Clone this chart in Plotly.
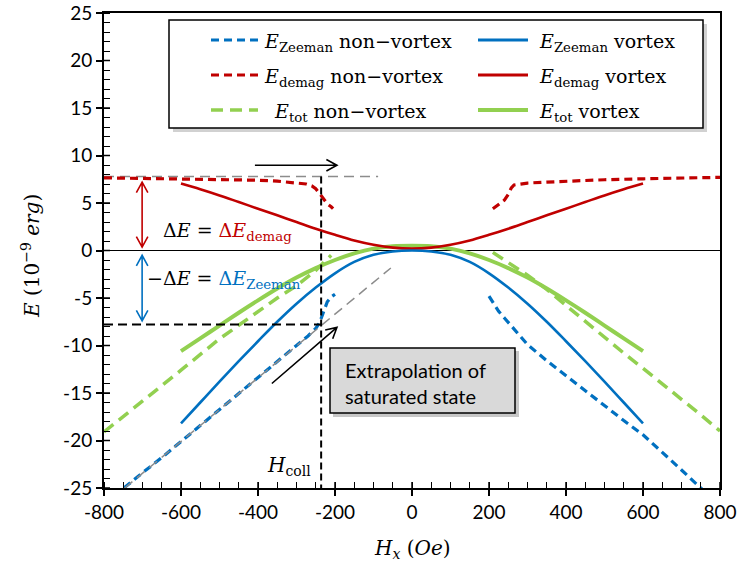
import plotly.graph_objects as go

# ---------------- data (Hx in Oe, E in 1e-9 erg) ----------------
zeeman_nv_left_x = [-800, -750, -700, -650, -600, -550, -500, -450, -400, -350, -300, -270, -250, -240, -230, -220, -210, -200]
zeeman_nv_left_y = [-26.7, -25.0, -23.4, -21.8, -20.1, -18.4, -16.8, -15.1, -13.4, -11.7, -10.0, -9.0, -8.2, -7.6, -6.4, -5.4, -4.9, -4.6]
zeeman_nv_right_x = [200, 210, 225, 240, 255, 270, 300, 350, 400, 450, 500, 550, 600, 650, 700, 750, 800]
zeeman_nv_right_y = [-4.8, -5.4, -6.4, -7.1, -7.8, -8.6, -9.9, -11.6, -13.2, -14.8, -16.4, -17.9, -19.4, -21.2, -23.1, -25.0, -26.8]

demag_nv_left_x = [-800, -700, -600, -500, -400, -350, -300, -275, -260, -250, -240, -230, -220, -210, -205]
demag_nv_left_y = [7.65, 7.6, 7.55, 7.5, 7.4, 7.3, 7.15, 7.0, 6.8, 6.5, 6.0, 5.4, 4.9, 4.6, 4.4]
demag_nv_right_x = [210, 225, 240, 250, 258, 265, 280, 300, 350, 400, 500, 600, 700, 800]
demag_nv_right_y = [4.4, 4.8, 5.3, 5.9, 6.6, 6.9, 7.0, 7.1, 7.2, 7.3, 7.45, 7.55, 7.65, 7.7]

tot_nv_left_x = [-800, -700, -600, -500, -400, -350, -300, -270, -250, -235, -220, -210]
tot_nv_left_y = [-19.1, -15.9, -12.6, -9.3, -6.4, -5.0, -3.7, -2.8, -2.1, -1.5, -0.9, -0.5]
tot_nv_right_x = [210, 250, 300, 350, 400, 450, 500, 550, 600, 650, 700, 750, 800]
tot_nv_right_y = [-0.2, -1.3, -2.6, -4.1, -5.8, -7.5, -9.2, -10.8, -12.4, -14.0, -15.6, -17.3, -19.0]

vortex_x = [-600, -550, -500, -450, -400, -350, -300, -250, -200, -150, -100, -50, 0,
            50, 100, 150, 200, 250, 300, 350, 400, 450, 500, 550, 600]
zeeman_v_y = [-18.2, -16.0, -13.8, -11.65, -9.55, -7.5, -5.6, -3.9, -2.4, -1.2, -0.45, -0.1, 0.0,
              -0.1, -0.45, -1.2, -2.4, -3.9, -5.6, -7.5, -9.55, -11.65, -13.8, -16.0, -18.2]
demag_v_y = [7.05, 6.45, 5.8, 5.1, 4.4, 3.7, 3.0, 2.3, 1.65, 1.05, 0.6, 0.3, 0.2,
             0.3, 0.6, 1.05, 1.65, 2.3, 3.0, 3.7, 4.4, 5.1, 5.8, 6.45, 7.05]
tot_v_y = [-10.6, -9.25, -7.9, -6.55, -5.25, -4.0, -2.85, -1.85, -1.0, -0.3, 0.2, 0.45, 0.5,
           0.45, 0.2, -0.3, -1.0, -1.85, -2.85, -4.0, -5.25, -6.55, -7.9, -9.25, -10.6]

x_ticks = [-800, -600, -400, -200, 0, 200, 400, 600, 800]
x_tick_text = ["-800", "-600", "-400", "-200", "0", "200", "400", "600", "800"]
y_ticks = [-25, -20, -15, -10, -5, 0, 5, 10, 15, 20, 25]
y_tick_text = ["-25", "-20", "-15", "-10", "-5", "0", "5", "10", "15", "20", "25"]

# reference markers
H_coll = -236
E_sat = 7.8
extrap_slope = 0.0335

BLUE = "#0070C0"
RED = "#C00000"
GREEN = "#92D050"
SERIF = "DejaVu Serif"
SANS = "Lato"

# ---------------- layout geometry ----------------
W, H = 740, 574
ML, MR, MT, MB = 104, 20, 13, 86
PW, PH = W - ML - MR, H - MT - MB
XR = (-800, 800)
YR = (-25, 25)
XPX = (XR[1] - XR[0]) / PW   # data units per px
YPX = (YR[1] - YR[0]) / PH


def pxx(px):
    return (px - ML) / PW


def pyy(py):
    return (H - MB - py) / PH


fig = go.Figure()


def add(x, y, color, width, dash, name, smooth=False):
    fig.add_trace(go.Scatter(x=x, y=y, mode="lines", name=name, showlegend=False,
                             line=dict(color=color, width=width, dash=dash,
                                       shape="spline" if smooth else "linear",
                                       smoothing=1.0 if smooth else None)))


add(tot_nv_left_x, tot_nv_left_y, GREEN, 3.5, "12px,7px", "E_tot non-vortex")
add(tot_nv_right_x, tot_nv_right_y, GREEN, 3.5, "12px,7px", "E_tot non-vortex")
add(vortex_x, tot_v_y, GREEN, 4, None, "E_tot vortex", True)
add(demag_nv_left_x, demag_nv_left_y, RED, 3.2, "8px,5px", "E_demag non-vortex")
add(demag_nv_right_x, demag_nv_right_y, RED, 3.2, "8px,5px", "E_demag non-vortex")
add(vortex_x, demag_v_y, RED, 2.6, None, "E_demag vortex", True)
add(vortex_x, zeeman_v_y, BLUE, 2.6, None, "E_Zeeman vortex", True)
add(zeeman_nv_left_x, zeeman_nv_left_y, BLUE, 3.2, "8px,5px", "E_Zeeman non-vortex")
add(zeeman_nv_right_x, zeeman_nv_right_y, BLUE, 3.2, "8px,5px", "E_Zeeman non-vortex")

shapes = []
annotations = []

# reference lines
shapes.append(dict(type="line", xref="x", yref="y", x0=-800, x1=-88, y0=E_sat, y1=E_sat,
                   line=dict(color="#8c8c8c", width=1.5, dash="10px,6px"), layer="below"))
ex0 = -25 / extrap_slope
shapes.append(dict(type="line", xref="x", yref="y", x0=ex0, y0=-25, x1=-55, y1=-55 * extrap_slope,
                   line=dict(color="#8c8c8c", width=1.5, dash="10px,6px")))
shapes.append(dict(type="line", xref="x", yref="y", x0=H_coll, x1=H_coll, y0=E_sat, y1=-25,
                   line=dict(color="black", width=2, dash="7px,4px")))
shapes.append(dict(type="line", xref="x", yref="y", x0=-800, x1=H_coll, y0=-E_sat, y1=-E_sat,
                   line=dict(color="black", width=2, dash="9px,5px")))


def chevron(tx, ty, ux, uy, arm=12, ang=0.5):
    import math
    n = math.hypot(ux, uy)
    ux, uy = ux / n, uy / n
    pts = []
    for s in (1, -1):
        c, sn = math.cos(s * ang), math.sin(s * ang)
        rx = -(ux * c - uy * sn)
        ry = -(ux * sn + uy * c)
        pts.append((tx + rx * arm * XPX, ty + ry * arm * YPX))
    return f"M{pts[0][0]},{pts[0][1]} L{tx},{ty} L{pts[1][0]},{pts[1][1]}"


def arrow(x0, y0, x1, y1, color, width=1.6, double=False):
    ux = (x1 - x0) / XPX
    uy = (y1 - y0) / YPX
    path = f"M{x0},{y0} L{x1},{y1} " + chevron(x1, y1, ux, uy)
    if double:
        path += " " + chevron(x0, y0, -ux, -uy)
    shapes.append(dict(type="path", xref="x", yref="y", path=path,
                       line=dict(color=color, width=width)))


arrow(-408, 8.97, -195, 8.97, "black")
arrow(-364, -14.0, -195, -8.1, "black")
arrow(-701, 7.2, -701, 0.35, RED, double=True)
arrow(-701, -0.5, -701, -7.4, BLUE, double=True)

# inner half of major ticks (ticks cross the axis)
for v in x_ticks:
    shapes.append(dict(type="line", xref="x", yref="paper", x0=v, x1=v, y0=0, y1=6 / PH,
                       line=dict(color="black", width=1.5)))
for v in y_ticks:
    shapes.append(dict(type="line", xref="paper", yref="y", x0=0, x1=6 / PW, y0=v, y1=v,
                       line=dict(color="black", width=1.5)))

# text box "Extrapolation of saturated state"
shapes.append(dict(type="rect", xref="paper", yref="paper", x0=pxx(333), x1=pxx(519),
                   y0=pyy(417), y1=pyy(351), fillcolor="rgba(0,0,0,0.22)", line=dict(width=0)))
shapes.append(dict(type="rect", xref="paper", yref="paper", x0=pxx(330), x1=pxx(515),
                   y0=pyy(413), y1=pyy(348), fillcolor="#d9d9d9", line=dict(color="black", width=1.5)))
annotations.append(dict(xref="paper", yref="paper", x=pxx(343), y=pyy(383), xanchor="left",
                        yanchor="middle", align="left", showarrow=False,
                        text="Extrapolation of<br>saturated state",
                        font=dict(family=SANS, size=20, color="black")))

# legend box (manual, two columns)
shapes.append(dict(type="rect", xref="paper", yref="paper", x0=pxx(173), x1=pxx(707),
                   y0=pyy(132), y1=pyy(24), fillcolor="rgba(0,0,0,0.18)", line=dict(width=0)))
shapes.append(dict(type="rect", xref="paper", yref="paper", x0=pxx(169), x1=pxx(703),
                   y0=pyy(128), y1=pyy(20), fillcolor="white", line=dict(color="black", width=1.5)))

legend_rows = [
    (40, BLUE, "8px,5px", 3.2, "<i>E</i><sub>Zeeman</sub> non−vortex", "<i>E</i><sub>Zeeman</sub> vortex", 262),
    (75, RED, "8px,5px", 3.2, "<i>E</i><sub>demag</sub> non−vortex", "<i>E</i><sub>demag</sub> vortex", 262),
    (110, GREEN, "12px,7px", 3.5, "<i>E</i><sub>tot</sub> non−vortex", "<i>E</i><sub>tot</sub> vortex", 272),
]
for py, col, dash, w, t1, t2, tx in legend_rows:
    shapes.append(dict(type="line", xref="paper", yref="paper", x0=pxx(211), x1=pxx(258),
                       y0=pyy(py), y1=pyy(py), line=dict(color=col, width=w, dash=dash)))
    shapes.append(dict(type="line", xref="paper", yref="paper", x0=pxx(478), x1=pxx(528),
                       y0=pyy(py), y1=pyy(py), line=dict(color=col, width=3 if col != GREEN else 4)))
    annotations.append(dict(xref="paper", yref="paper", x=pxx(tx), y=pyy(py + 2), xanchor="left",
                            yanchor="middle", showarrow=False, text=t1,
                            font=dict(family=SERIF, size=19, color="black")))
    annotations.append(dict(xref="paper", yref="paper", x=pxx(537), y=pyy(py + 2), xanchor="left",
                            yanchor="middle", showarrow=False, text=t2,
                            font=dict(family=SERIF, size=19, color="black")))

# delta E labels
annotations.append(dict(xref="paper", yref="paper", x=pxx(161), y=pyy(231), xanchor="left",
                        yanchor="middle", showarrow=False,
                        text="Δ<i>E</i> = <span style='color:#C00000'>Δ<i>E</i><sub>demag</sub></span>",
                        font=dict(family=SERIF, size=19, color="black")))
annotations.append(dict(xref="paper", yref="paper", x=pxx(145), y=pyy(280), xanchor="left",
                        yanchor="middle", showarrow=False,
                        text="−Δ<i>E</i> = <span style='color:#0070C0'>Δ<i>E</i><sub>Zeeman</sub></span>",
                        font=dict(family=SERIF, size=19, color="black")))
annotations.append(dict(xref="paper", yref="paper", x=pxx(289), y=pyy(466), xanchor="center",
                        yanchor="middle", showarrow=False,
                        text="<i>H</i><sub>coll</sub>",
                        font=dict(family=SERIF, size=20, color="black")))

# axis titles
annotations.append(dict(xref="paper", yref="paper", x=pxx(412), y=pyy(549), xanchor="center",
                        yanchor="middle", showarrow=False,
                        text="<i>H</i><sub><i>x</i></sub> (<i>Oe</i>)",
                        font=dict(family=SERIF, size=20, color="black")))
annotations.append(dict(xref="paper", yref="paper", x=pxx(31), y=pyy(256), xanchor="center",
                        yanchor="middle", showarrow=False, textangle=-90,
                        text="<i>E</i> (10<sup>−9</sup> <i>erg</i>)",
                        font=dict(family=SERIF, size=20, color="black")))

fig.update_layout(
    template="none",
    width=W, height=H,
    margin=dict(l=ML, r=MR, t=MT, b=MB, autoexpand=False),
    paper_bgcolor="white", plot_bgcolor="white",
    showlegend=False,
    shapes=shapes, annotations=annotations,
)
fig.update_xaxes(range=list(XR), tickvals=x_ticks, ticktext=x_tick_text, automargin=False,
                 ticks="outside", ticklen=6, tickwidth=1.5, tickcolor="black",
                 showline=True, linewidth=2, linecolor="black", mirror=True,
                 showgrid=False, zeroline=False,
                 tickfont=dict(family=SANS, size=19, color="black"),
                 minor=dict(dtick=50, ticks="inside", ticklen=6, tickwidth=1.2, tickcolor="black", showgrid=False))
fig.update_yaxes(range=list(YR), tickvals=y_ticks, ticktext=y_tick_text, automargin=False,
                 ticks="outside", ticklen=6, tickwidth=1.5, tickcolor="black",
                 showline=True, linewidth=2, linecolor="black", mirror=True,
                 showgrid=False, zeroline=True, zerolinecolor="black", zerolinewidth=1.2,
                 tickfont=dict(family=SANS, size=19, color="black"),
                 minor=dict(dtick=1, ticks="inside", ticklen=6, tickwidth=1.2, tickcolor="black", showgrid=False))

fig.write_html("out.html")
